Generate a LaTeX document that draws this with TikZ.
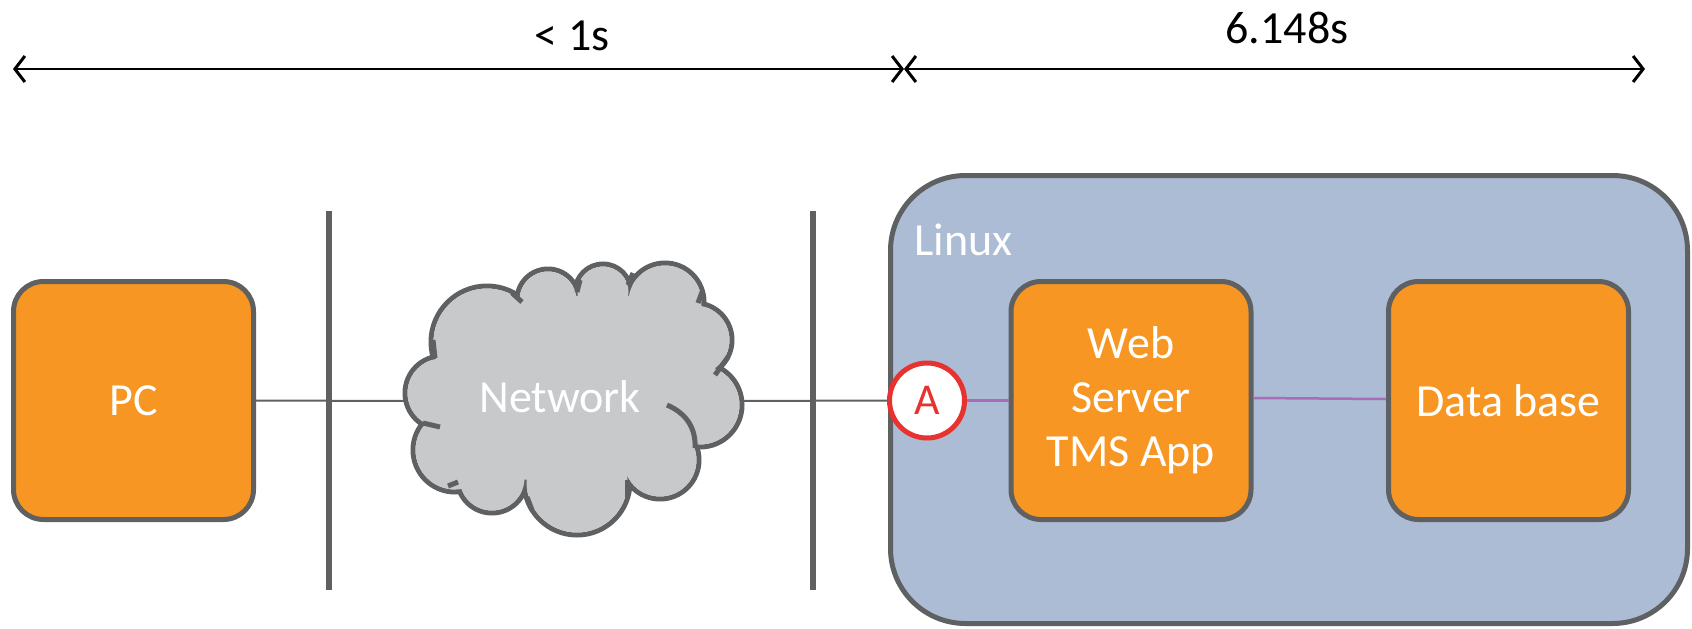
\documentclass[tikz,border=0pt]{standalone}
\usepackage{fontspec}
\setmainfont{Carlito}
\usetikzlibrary{arrows.meta}
\definecolor{boxorange}{RGB}{247,150,34}
\definecolor{edgegray}{RGB}{95,96,98}
\definecolor{linuxblue}{RGB}{171,188,212}
\definecolor{cloudgray}{RGB}{200,201,203}
\definecolor{ared}{RGB}{232,50,47}
\definecolor{linkpurple}{RGB}{168,108,184}
\begin{document}
\begin{tikzpicture}[x=1pt,y=-1pt,
  bigtext/.style={font=\fontsize{46}{54}\selectfont},
  orangebox/.style={draw=edgegray, line width=5pt, fill=boxorange, rounded corners=30pt,
    minimum width=240pt, minimum height=238pt, text=white, align=center, bigtext, inner sep=0pt},
  wall/.style={draw=edgegray, line width=6pt},
  plainlink/.style={draw=edgegray, line width=2pt},
  purplelink/.style={draw=linkpurple, line width=2.5pt},
  timearrow/.style={draw=black, line width=2.5pt, {Straight Barb[length=10pt,width=26pt,line width=3pt]}-{Straight Barb[length=10pt,width=26pt,line width=3pt]}},
  cloudline/.style={draw=edgegray, line width=5pt},
]
\useasboundingbox (0,0) rectangle (1692,629);

% time arrows
\coordinate (t0) at (13,69);
\coordinate (t1) at (904,69);
\coordinate (t2) at (1645,69);
\draw[timearrow] (t0) -- (t1);
\draw[timearrow] (t1) -- (t2);
\node[bigtext, anchor=base] (lt) at (572,50) {< 1s};
\node[bigtext, anchor=base] (rt) at (1287,43) {6.148s};

% Linux box
\node[draw=edgegray, line width=5pt, fill=linuxblue, rounded corners=75pt,
  minimum width=797pt, minimum height=448pt, inner sep=0pt] (linux) at (1289,399.5) {};
\node[bigtext, text=white, anchor=base west, inner sep=0pt] (linuxlabel) at (914,255) {Linux};

% cloud
\foreach \cx/\cy/\r in {442/393/37, 455/450/42, 492/478/35, 577/482/53, 660/460/39,
    700/405/42, 695/340/37, 665/302/39, 603/292/28, 548/300/31, 487/342/56}
  \draw[cloudline] (\cx,\cy) circle (\r pt);
\foreach \cx/\cy/\r in {442/393/37, 455/450/42, 492/478/35, 577/482/53, 660/460/39,
    700/405/42, 695/340/37, 665/302/39, 603/292/28, 548/300/31, 487/342/56}
  \fill[cloudgray] (\cx,\cy) circle (\r pt - 2.5pt);
\fill[cloudgray] (442,393) -- (455,450) -- (492,478) -- (577,482) -- (660,460) -- (700,405)
  -- (695,340) -- (665,302) -- (603,292) -- (548,300) -- (487,342) -- cycle;
% inner strokes of the cloud
\draw[cloudline] (433,340) -- (435,358);
\draw[cloudline] (423,423) -- (440,427);
\draw[cloudline] (448,486) -- (458,482);
\draw[cloudline] (527,497) -- (532,510);
\draw[cloudline] (627,480) -- (627,497);
\draw[cloudline] (667,405) .. controls (688,414) and (696,430) .. (695,448);
\draw[cloudline] (715,375) -- (728,357);
\draw[cloudline] (698,303) -- (702,292);
\draw[cloudline] (628,285) -- (633,273);
\draw[cloudline] (577,292) -- (580,280);
\draw[cloudline] (522,302) -- (512,293);
\node[bigtext, text=white] (net) at (560,397) {Network};
\coordinate (netw) at (405,401);
\coordinate (nete) at (740,401);

% walls
\coordinate (w1t) at (329,211); \coordinate (w1b) at (329,590);
\coordinate (w2t) at (813,211); \coordinate (w2b) at (813,590);

% boxes
\node[orangebox] (pc) at (133.5,400.5) {PC};
\node[orangebox] (web) at (1131,400.5) {Web\\Server\\TMS App};
\node[orangebox] (db) at (1508.5,400.5) {Data base};

% A marker
\node[circle, draw=ared, line width=5pt, fill=white, minimum size=75pt, inner sep=0pt,
  text=ared, font=\fontsize{44}{50}\selectfont] (A) at (927,400.5) {A};

% links
\draw[plainlink] (pc.east) -- (netw);
\draw[plainlink] (nete) -- (A.west);
\draw[purplelink] (A.east) -- (web.west);
\draw[purplelink] (web.east |- 0,398) -- (db.west |- 0,399);

\draw[wall] (w1t) -- (w1b);
\draw[wall] (w2t) -- (w2b);
\end{tikzpicture}
\end{document}
